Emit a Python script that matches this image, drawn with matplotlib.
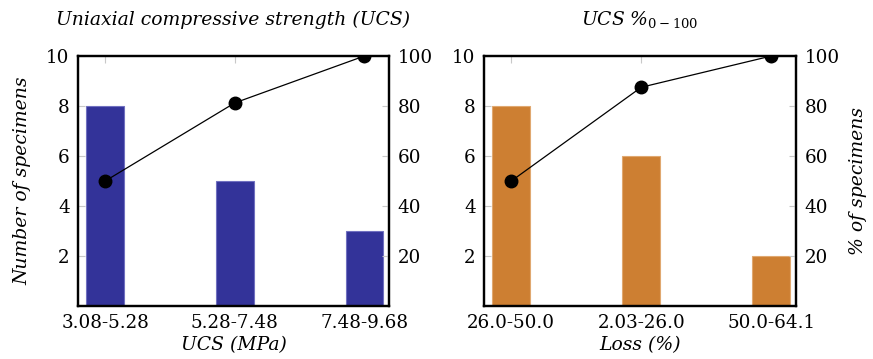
"""UCS histogram with cumulative percentage"""
import numpy as np
import matplotlib.pyplot as plt

plt.rcParams['font.family'] = ['DejaVu Serif']
plt.rcParams['mathtext.fontset'] = 'dejavuserif'

# data
ucs_labels = ['3.08-5.28', '5.28-7.48', '7.48-9.68']
ucs_counts = [8, 5, 3]
ucs_cum = [50, 81.25, 100]

loss_labels = ['26.0-50.0', '2.03-26.0', '50.0-64.1']
loss_counts = [8, 6, 2]
loss_cum = [50, 87.5, 100]

blue = '#333399'
bronze = '#cd7f32'
grey = '#c8c8c8'

fig = plt.figure(figsize=(8.73, 3.59), dpi=100)


def panel(rect, labels, counts, cum, color, edge, title, xlabel, left_label, right_label):
    ax = fig.add_axes(rect)
    x = np.arange(len(labels))
    ax.bar(x, counts, width=0.29, color=color, edgecolor=edge, linewidth=0.8, zorder=2)
    ax.set_xlim(-0.21, 2.19)
    ax.set_ylim(0, 10)
    ax.set_xticks(x)
    ax.set_xticklabels(labels)
    ax.set_yticks([2, 4, 6, 8, 10])
    ax.tick_params(direction='in', length=5, color=grey, top=True, labelsize=13.2, pad=6)
    ax.set_title(title, style='italic', fontsize=13.5, pad=22)
    ax.set_xlabel(xlabel, style='italic', fontsize=13.5, labelpad=3)
    if left_label:
        ax.set_ylabel(left_label, style='italic', fontsize=13.5, labelpad=11)
    for s in ax.spines.values():
        s.set_linewidth(1.6)

    ax2 = ax.twinx()
    ax2.plot(x, cum, color='black', lw=0.9, marker='o', markersize=9, zorder=3)
    ax2.set_ylim(0, 100)
    ax2.set_yticks([20, 40, 60, 80, 100])
    ax2.tick_params(direction='in', length=5, color=grey, labelsize=13.2, pad=6)
    if right_label:
        ax2.set_ylabel(right_label, style='italic', fontsize=13.5, labelpad=7)
    for s in ax2.spines.values():
        s.set_linewidth(1.6)
    return ax, ax2


panel([78/873, 1 - 306/359, 311/873, 250/359], ucs_labels, ucs_counts, ucs_cum,
      blue, '#7070c0', 'Uniaxial compressive strength (UCS)', 'UCS (MPa)',
      'Number of specimens', None)
panel([484/873, 1 - 306/359, 312/873, 250/359], loss_labels, loss_counts, loss_cum,
      bronze, '#e0a870', r'UCS %$_{\mathrm{0-100}}$', 'Loss (%)',
      None, '% of specimens')

plt.savefig('out.png', dpi=100)
